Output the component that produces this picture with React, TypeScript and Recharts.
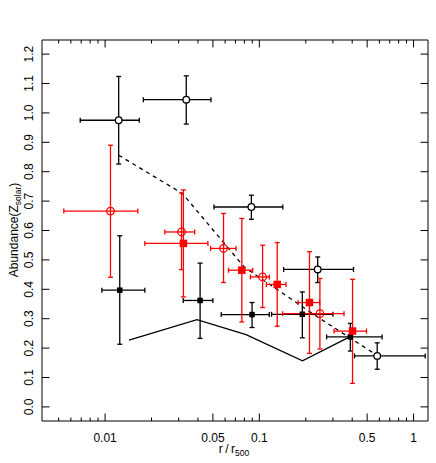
import React from "react";
import {
  ComposedChart,
  Scatter,
  Line,
  XAxis,
  YAxis,
  ErrorBar,
} from "recharts";

// [x, xLow, xHigh, y, yLow, yHigh]
const blackOpen = [
  [0.01225, 0.0069, 0.01667, 0.975, 0.826, 1.124],
  [0.0336, 0.0177, 0.0486, 1.045, 0.962, 1.126],
  [0.0888, 0.0508, 0.142, 0.68, 0.638, 0.72],
  [0.239, 0.1437, 0.408, 0.4675, 0.423, 0.51],
  [0.581, 0.414, 1.19, 0.1735, 0.128, 0.218],
];

const blackSquares = [
  [0.01245, 0.00953, 0.0181, 0.397, 0.213, 0.582],
  [0.0413, 0.0321, 0.05, 0.362, 0.233, 0.489],
  [0.0897, 0.0566, 0.116, 0.314, 0.27, 0.355],
  [0.19, 0.12, 0.3, 0.315, 0.235, 0.391],
  [0.389, 0.273, 0.625, 0.238, 0.19, 0.284],
];

const redOpen = [
  [0.01084, 0.0054, 0.0163, 0.666, 0.441, 0.89],
  [0.0313, 0.0244, 0.0381, 0.595, 0.467, 0.727],
  [0.0586, 0.0483, 0.0707, 0.539, 0.423, 0.658],
  [0.105, 0.0875, 0.116, 0.442, 0.338, 0.55],
  [0.247, 0.1415, 0.354, 0.317, 0.197, 0.437],
];

const redSquares = [
  [0.0322, 0.0181, 0.0464, 0.556, 0.374, 0.738],
  [0.077, 0.0631, 0.0906, 0.465, 0.289, 0.641],
  [0.1306, 0.111, 0.149, 0.4165, 0.2745, 0.559],
  [0.2114, 0.178, 0.246, 0.355, 0.182, 0.528],
  [0.402, 0.305, 0.495, 0.258, 0.08, 0.434],
];

const dashedX = [0.01225, 0.0317, 0.08, 0.24, 0.581];
const dashedY = [0.856, 0.726, 0.475, 0.305, 0.175];

const solidX = [0.0143, 0.0394, 0.082, 0.1905, 0.385];
const solidY = [0.227, 0.297, 0.246, 0.1565, 0.238];

const xLabels = [0.01, 0.05, 0.1, 0.5, 1];
const xMinor = [
  0.005, 0.006, 0.007, 0.008, 0.009, 0.02, 0.03, 0.04, 0.06, 0.07, 0.08, 0.09,
  0.2, 0.3, 0.4, 0.6, 0.7, 0.8, 0.9,
];
const yTicks = [0, 0.1, 0.2, 0.3, 0.4, 0.5, 0.6, 0.7, 0.8, 0.9, 1.0, 1.1, 1.2];

const xTicks = [...xMinor, ...xLabels].sort((a, b) => a - b);
const xDomain = [0.0039, 1.24];
const yDomain = [-0.048, 1.248];

const font = "'Liberation Sans', Arial, Helvetica, sans-serif";
const red = "#ff0000";

const toPoints = (rows: number[][]) =>
  rows.map(([x, xl, xh, y, yl, yh]) => ({
    x,
    y,
    ex: [x - xl, xh - x],
    ey: [y - yl, yh - y],
  }));

const toLine = (xs: number[], ys: number[]) =>
  xs.map((x, i) => ({ x, y: ys[i] }));

const BottomTick = (props: any) => {
  const { x, y, payload } = props;
  const major = xLabels.includes(payload.value);
  return (
    <g>
      <line x1={x} y1={y} x2={x} y2={y - (major ? 7.5 : 3.5)} stroke="#000" />
      {major && (
        <text
          x={x}
          y={y + 21}
          textAnchor="middle"
          fontSize={12}
          fontFamily={font}
          fill="#000"
        >
          {String(payload.value)}
        </text>
      )}
    </g>
  );
};

const TopTick = (props: any) => {
  const { x, y, payload } = props;
  const major = xLabels.includes(payload.value);
  return (
    <line x1={x} y1={y} x2={x} y2={y + (major ? 7.5 : 3.5)} stroke="#000" />
  );
};

const LeftTick = (props: any) => {
  const { x, y, payload } = props;
  return (
    <g>
      <line x1={x} y1={y} x2={x + 7.5} y2={y} stroke="#000" />
      <text
        x={x - 9}
        y={y}
        textAnchor="middle"
        fontSize={12}
        fontFamily={font}
        fill="#000"
        transform={`rotate(-90, ${x - 9}, ${y})`}
      >
        {payload.value.toFixed(1)}
      </text>
    </g>
  );
};

const RightTick = (props: any) => {
  const { x, y } = props;
  return <line x1={x} y1={y} x2={x - 7.5} y2={y} stroke="#000" />;
};

const YTitle = () => (
  <text
    x={18}
    y={230}
    textAnchor="middle"
    fontSize={12}
    fontFamily={font}
    fill="#000"
    transform="rotate(-90, 18, 230)"
  >
    Abundance(Z
    <tspan fontSize={8.5} dy={3}>
      solar
    </tspan>
    <tspan dy={-3}>)</tspan>
  </text>
);

const XTitle = () => (
  <text
    x={234}
    y={453}
    textAnchor="middle"
    fontSize={12}
    fontFamily={font}
    fill="#000"
  >
    {"r\u2009/\u2009r"}
    <tspan fontSize={8.5} dy={3}>
      500
    </tspan>
  </text>
);

const square = (fill: string, size: number) => (props: any) => (
  <rect
    x={props.cx - size / 2}
    y={props.cy - size / 2}
    width={size}
    height={size}
    fill={fill}
  />
);

const circle = (stroke: string, fill: string, r: number) => (props: any) => (
  <circle
    cx={props.cx}
    cy={props.cy}
    r={r}
    stroke={stroke}
    strokeWidth={1.3}
    fill={fill}
  />
);

const bars = (color: string) => [
  <ErrorBar
    key="x"
    dataKey="ex"
    direction="x"
    width={2.5}
    stroke={color}
    strokeWidth={1.3}
    isAnimationActive={false}
  />,
  <ErrorBar
    key="y"
    dataKey="ey"
    direction="y"
    width={2.5}
    stroke={color}
    strokeWidth={1.3}
    isAnimationActive={false}
  />,
];

export default function App() {
  return (
    <div style={{ position: "absolute", left: 0, top: 0, background: "#fff" }}>
      <ComposedChart
        width={436}
        height={463}
        margin={{ top: 0, right: 0, bottom: 0, left: 0 }}
      >
        <XAxis
          dataKey="x"
          type="number"
          scale="log"
          domain={xDomain}
          allowDataOverflow
          ticks={xTicks}
          interval={0}
          height={42}
          tickSize={0}
          tickMargin={0}
          tickLine={false}
          axisLine={{ stroke: "#000" }}
          tick={<BottomTick />}
          label={<XTitle />}
        />
        <XAxis
          xAxisId="top"
          orientation="top"
          dataKey="x"
          type="number"
          scale="log"
          domain={xDomain}
          allowDataOverflow
          ticks={xTicks}
          interval={0}
          height={40}
          tickSize={0}
          tickMargin={0}
          tickLine={false}
          axisLine={{ stroke: "#000" }}
          tick={<TopTick />}
        />
        <YAxis
          dataKey="y"
          type="number"
          domain={yDomain}
          allowDataOverflow
          ticks={yTicks}
          interval={0}
          width={42}
          tickSize={0}
          tickMargin={0}
          tickLine={false}
          axisLine={{ stroke: "#000" }}
          tick={<LeftTick />}
          label={<YTitle />}
        />
        <YAxis
          yAxisId="right"
          orientation="right"
          dataKey="y"
          type="number"
          domain={yDomain}
          allowDataOverflow
          ticks={yTicks}
          interval={0}
          width={8}
          tickSize={0}
          tickMargin={0}
          tickLine={false}
          axisLine={{ stroke: "#000" }}
          tick={<RightTick />}
        />
        <Line
          data={toLine(solidX, solidY)}
          dataKey="y"
          stroke="#000"
          strokeWidth={1.3}
          dot={false}
          isAnimationActive={false}
        />
        <Line
          data={toLine(dashedX, dashedY)}
          dataKey="y"
          stroke="#000"
          strokeWidth={1.3}
          strokeDasharray="4 4"
          dot={false}
          isAnimationActive={false}
        />
        <Scatter
          data={toPoints(blackSquares)}
          dataKey="y"
          shape={square("#000", 5.5)}
          isAnimationActive={false}
        >
          {bars("#000")}
        </Scatter>
        <Scatter
          data={toPoints(blackOpen)}
          dataKey="y"
          shape={circle("#000", "#fff", 3.3)}
          isAnimationActive={false}
        >
          {bars("#000")}
        </Scatter>
        <Scatter
          data={toPoints(redOpen)}
          dataKey="y"
          shape={circle(red, "none", 3.8)}
          isAnimationActive={false}
        >
          {bars(red)}
        </Scatter>
        <Scatter
          data={toPoints(redSquares)}
          dataKey="y"
          shape={square(red, 7.5)}
          isAnimationActive={false}
        >
          {bars(red)}
        </Scatter>
      </ComposedChart>
    </div>
  );
}
